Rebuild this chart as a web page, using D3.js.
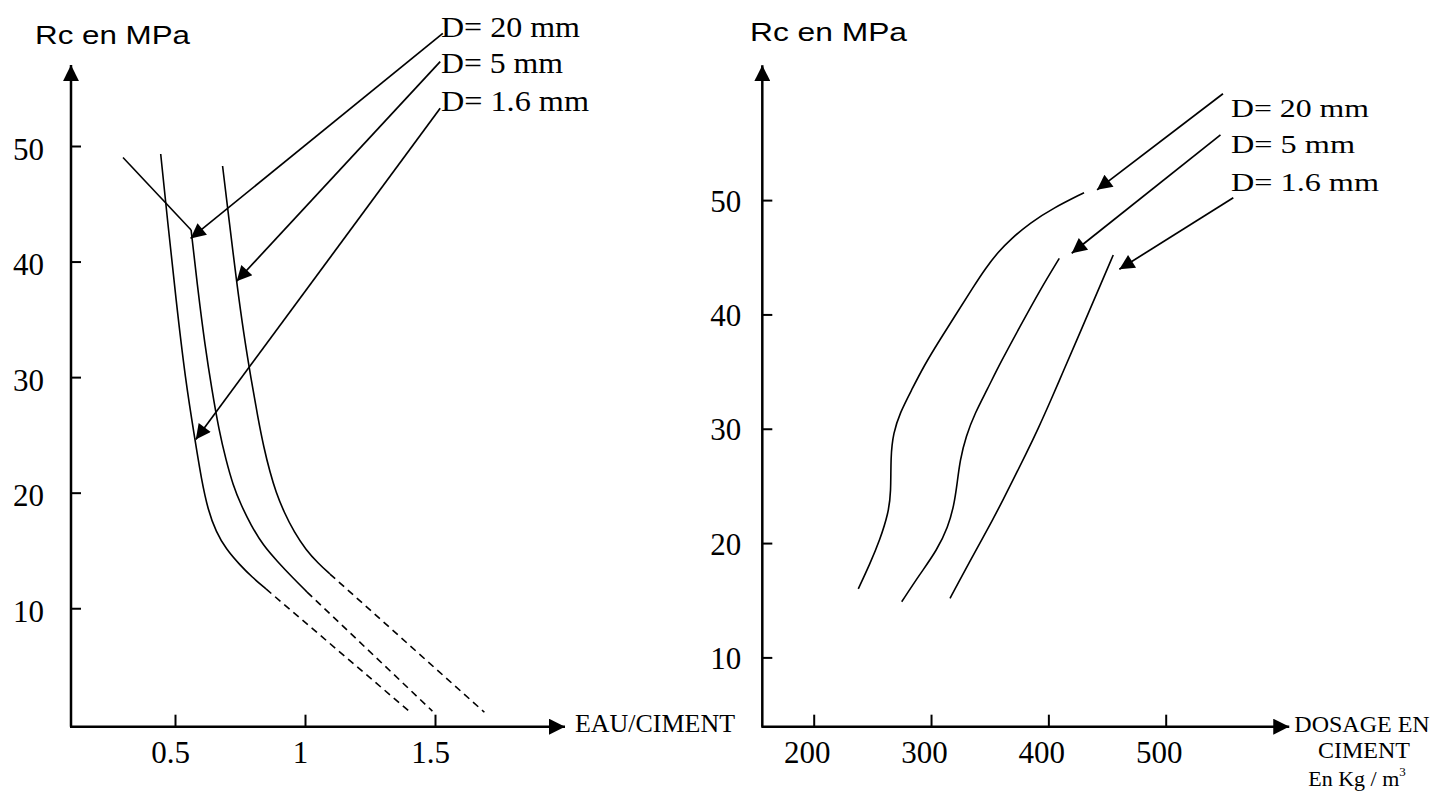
<!DOCTYPE html>
<html><head><meta charset="utf-8">
<script src="https://cdn.jsdelivr.net/npm/d3@7"></script>
<style>html,body{margin:0;padding:0;background:#fff;} svg{display:block;background:#fff;}</style>
</head><body>
<svg id="chart" width="1444" height="792"></svg>
<script>
// ================= DATA =================
// Left chart: Rc (MPa) vs EAU/CIMENT
const leftXTicks = [0.5, 1, 1.5];
const leftXTickLabels = ["0.5", "1", "1.5"];
const leftYTicks = [10, 20, 30, 40, 50];
const seriesNames = ["D= 20 mm", "D= 5 mm", "D= 1.6 mm"];

const leftD20Lead = [[0.30, 49.0], [0.562, 42.73]];
const leftD20 = [[0.562, 42.73], [0.588, 37.54], [0.615, 32.78], [0.642, 28.89], [0.669, 25.42], [0.696, 22.83], [0.723, 20.67], [0.754, 18.93], [0.792, 17.20], [0.838, 15.47], [0.896, 14.00], [0.950, 12.70], [1.008, 11.40]];
const leftD5 = [[0.683, 48.27], [0.708, 43.58], [0.737, 38.23], [0.765, 33.64], [0.792, 29.92], [0.819, 26.46], [0.842, 23.87], [0.865, 21.79], [0.888, 20.06], [0.919, 18.33], [0.958, 16.60], [1.004, 15.04], [1.050, 13.91], [1.096, 12.96]];
const leftD16 = [[0.445, 49.31], [0.471, 43.60], [0.504, 36.68], [0.540, 29.75], [0.577, 24.56], [0.602, 21.10], [0.627, 18.50], [0.658, 16.60], [0.696, 15.13], [0.750, 13.74], [0.796, 12.70], [0.850, 11.67]];
const leftD20Dash = [[1.008, 11.40], [1.49, 1.1]];
const leftD5Dash = [[1.096, 12.96], [1.69, 1.0]];
const leftD16Dash = [[0.850, 11.67], [1.40, 1.1]];
const leftArrowFrom = [[1.53, 59.75], [1.52, 57.3], [1.52, 53.26]];
const leftArrowTo = [[0.56, 42.0], [0.737, 38.3], [0.58, 24.6]];
const leftXExtent = [0.1, 2.0];
const leftYExtent = [-0.25, 57.0];

// Right chart: Rc (MPa) vs DOSAGE EN CIMENT (kg/m3)
const rightXTicks = [200, 300, 400, 500];
const rightYTicks = [10, 20, 30, 40, 50];
const rightD20 = [[238, 16.0], [248, 18.2], [256.5, 20.3], [263.6, 22.6], [265.9, 24.4], [265.6, 27.6], [267.8, 29.6], [273.5, 31.4], [283.5, 33.4], [293.4, 35.4], [307.6, 37.8], [321.9, 40.1], [336, 42.4], [346.0, 43.97], [357.1, 45.46], [369.0, 46.68], [384.3, 48.0], [403.9, 49.29], [430.4, 50.65]];
const rightD5 = [[275.0, 14.87], [290.6, 17.29], [305.1, 19.39], [314.5, 21.40], [319.6, 23.33], [322.1, 25.08], [324.7, 27.27], [329.8, 29.36], [337.5, 31.38], [347.7, 33.39], [358.8, 35.72], [375.8, 38.93], [392.9, 42.14], [409.3, 44.91]];
const rightD16 = [[316.2, 15.17], [324.7, 16.80], [333.2, 18.43], [342.6, 20.18], [352.0, 21.93], [361.3, 23.77], [370.7, 25.69], [380.9, 27.79], [391.2, 29.98], [402.2, 32.51], [412.8, 35.05], [423.5, 37.59], [434.5, 40.21], [445.1, 42.75], [455.3, 45.20]];
const rightArrowFrom = [[548.8, 59.3], [546.7, 55.7], [557.6, 50.2]];
const rightArrowTo = [[441.5, 50.9], [419.9, 45.35], [460.5, 43.95]];
const rightXExtent = [156.2, 605.3];
const rightYExtent = [3.94, 61.8];

// ================= DRAW =================
const svg = d3.select("#chart");
const serif = "'Liberation Serif','Times New Roman',serif";
const sans = "'Liberation Sans',Arial,sans-serif";

const defs = svg.append("defs");
function marker(id, w, h) {
  defs.append("marker").attr("id", id)
    .attr("viewBox", "0 0 10 10").attr("refX", 10).attr("refY", 5)
    .attr("markerUnits", "userSpaceOnUse")
    .attr("markerWidth", w).attr("markerHeight", h)
    .attr("orient", "auto")
    .append("path").attr("d", "M0,0 L10,5 L0,10 Z").attr("fill", "#000");
}
marker("axisHead", 16, 16);
marker("arrowHead", 20, 15);

// Scales
const xL = d3.scaleLinear().domain([0.5, 1.5]).range([175, 435]);
const yL = d3.scaleLinear().domain([0, 50]).range([723.8, 146]);
const xR = d3.scaleLinear().domain([200, 500]).range([813.7, 1165.7]);
const yR = d3.scaleLinear().domain([10, 50]).range([657.4, 200.1]);

function drawChart(x, y, xExt, yExt, xTicks, xFmt, yTicks, opts) {
  const g = svg.append("g");
  const x0 = x(xExt[0]), y0 = y(yExt[0]);
  const ya = d3.axisLeft(y).tickValues(yTicks).tickSizeInner(-10).tickSizeOuter(0).tickPadding(opts.yPad);
  const gy = g.append("g").attr("transform", `translate(${x0},0)`).call(ya);
  const xa = d3.axisBottom(x).tickValues(xTicks).tickFormat(xFmt).tickSizeInner(-12).tickSizeOuter(0).tickPadding(14);
  const gx = g.append("g").attr("transform", `translate(0,${y0})`).call(xa);
  [gy, gx].forEach(a => {
    a.select(".domain").remove();
    a.selectAll(".tick line").attr("stroke", "#000").attr("stroke-width", 2);
    a.selectAll(".tick text").attr("fill", "#000").attr("font-family", serif).attr("font-size", 31);
  });
  gy.selectAll(".tick text").attr("dy", opts.yDy);
  gx.selectAll(".tick text").attr("dx", opts.xDx);
  g.append("line").attr("x1", x0).attr("y1", y0).attr("x2", x0).attr("y2", y(yExt[1]))
    .attr("stroke", "#000").attr("stroke-width", 2.5).attr("marker-end", "url(#axisHead)");
  g.append("line").attr("x1", x0 - 1).attr("y1", y0).attr("x2", x(xExt[1])).attr("y2", y0)
    .attr("stroke", "#000").attr("stroke-width", 2.5).attr("marker-end", "url(#axisHead)");
  return g;
}

const lineGen = (x, y, curve) => d3.line().x(d => x(d[0])).y(d => y(d[1])).curve(curve);

// ---- Left chart ----
const gL = drawChart(xL, yL, leftXExtent, leftYExtent, leftXTicks, (d, i) => leftXTickLabels[i], leftYTicks, { yPad: 27, yDy: "0.42em", xDx: -5 });
const smoothL = lineGen(xL, yL, d3.curveBasis);
const straightL = lineGen(xL, yL, d3.curveLinear);
[leftD20, leftD5, leftD16].forEach(s => {
  gL.append("path").attr("d", smoothL(s)).attr("fill", "none").attr("stroke", "#000").attr("stroke-width", 1.6);
});
gL.append("path").attr("d", straightL(leftD20Lead)).attr("fill", "none").attr("stroke", "#000").attr("stroke-width", 1.6);
[leftD20Dash, leftD5Dash, leftD16Dash].forEach(s => {
  gL.append("path").attr("d", straightL(s)).attr("fill", "none").attr("stroke", "#000").attr("stroke-width", 1.6).attr("stroke-dasharray", "7,5");
});
leftArrowFrom.forEach((f, i) => {
  const t = leftArrowTo[i];
  gL.append("line").attr("x1", xL(f[0])).attr("y1", yL(f[1])).attr("x2", xL(t[0])).attr("y2", yL(t[1]))
    .attr("stroke", "#000").attr("stroke-width", 1.7).attr("marker-end", "url(#arrowHead)");
});
const leftLegendY = [37, 73, 111];
const leftLegendLen = [139, 122, 148];
seriesNames.forEach((n, i) => {
  gL.append("text").attr("x", 441).attr("y", leftLegendY[i]).text(n)
    .attr("font-family", serif).attr("font-size", 29)
    .attr("textLength", leftLegendLen[i]).attr("lengthAdjust", "spacingAndGlyphs");
});
gL.append("text").attr("x", 35).attr("y", 44).text("Rc en MPa")
  .attr("font-family", sans).attr("font-size", 26)
  .attr("textLength", 155).attr("lengthAdjust", "spacingAndGlyphs");
gL.append("text").attr("x", 575).attr("y", 732).text("EAU/CIMENT")
  .attr("font-family", serif).attr("font-size", 26)
  .attr("textLength", 160).attr("lengthAdjust", "spacingAndGlyphs");

// ---- Right chart ----
const gR = drawChart(xR, yR, rightXExtent, rightYExtent, rightXTicks, d3.format("d"), rightYTicks, { yPad: 21, yDy: "0.36em", xDx: -7 });
const smoothR = lineGen(xR, yR, d3.curveBasis);
[rightD20, rightD5, rightD16].forEach(s => {
  gR.append("path").attr("d", smoothR(s)).attr("fill", "none").attr("stroke", "#000").attr("stroke-width", 1.6);
});
rightArrowFrom.forEach((f, i) => {
  const t = rightArrowTo[i];
  gR.append("line").attr("x1", xR(f[0])).attr("y1", yR(f[1])).attr("x2", xR(t[0])).attr("y2", yR(t[1]))
    .attr("stroke", "#000").attr("stroke-width", 1.7).attr("marker-end", "url(#arrowHead)");
});
const rightLegendY = [117, 153, 191];
const rightLegendLen = [138, 124, 148];
seriesNames.forEach((n, i) => {
  gR.append("text").attr("x", 1231).attr("y", rightLegendY[i]).text(n)
    .attr("font-family", serif).attr("font-size", 26)
    .attr("textLength", rightLegendLen[i]).attr("lengthAdjust", "spacingAndGlyphs");
});
gR.append("text").attr("x", 750).attr("y", 41).text("Rc en MPa")
  .attr("font-family", sans).attr("font-size", 25)
  .attr("textLength", 157).attr("lengthAdjust", "spacingAndGlyphs");
const xTitle = gR.append("g").attr("font-family", serif).attr("text-anchor", "middle");
xTitle.append("text").attr("x", 1362).attr("y", 732).attr("font-size", 24).text("DOSAGE EN");
xTitle.append("text").attr("x", 1364).attr("y", 758).attr("font-size", 24).text("CIMENT");
const unit = xTitle.append("text").attr("x", 1357).attr("y", 786).attr("font-size", 22);
unit.append("tspan").text("En Kg / m");
unit.append("tspan").attr("font-size", 13).attr("dy", -10).text("3");
</script>
</body></html>
